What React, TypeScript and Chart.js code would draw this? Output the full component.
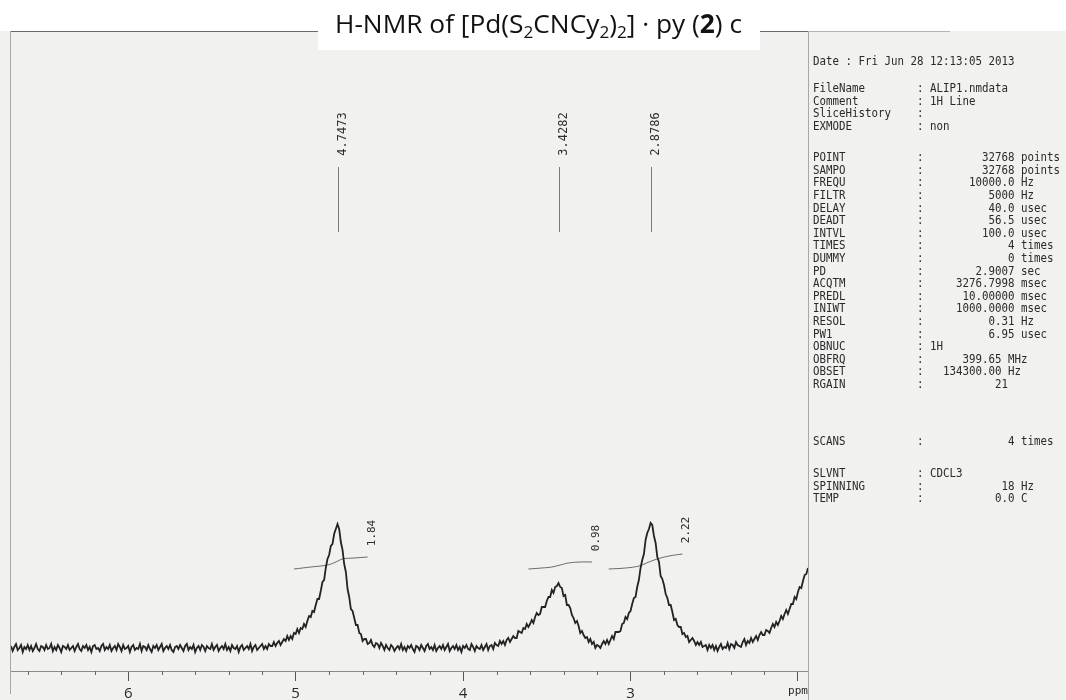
import { useEffect, useRef } from "react";
import { Chart, registerables } from "chart.js";

Chart.register(...registerables);

// ---------------- spectrum: intensity, one value every 0.01 ppm from 6.70 ppm ----------------
const PPM_START = 6.7;
const PPM_STEP = 0.01;

// 6.70 – 5.21 ppm (flat, noisy baseline)
const BASELINE_LEFT = [
  2, -3, 1, 4, -2, 0, 3, -4, 1, -1, 3, -2, 2, -3, 0, 4, -1, -3, 2, 1,
  -2, 3, -1, 0, 4, -3, 1, -2, 3, 0, -4, 2, 1, -1, 3, -2, 0, 2, -3, 1,
  4, -1, -3, 2, 0, 3, -2, 1, -4, 2, 3, -1, 0, -3, 2, 4, -2, 1, -1, 3,
  -3, 0, 2, -2, 4, 1, -3, 3, -1, 0, 2, -4, 1, 3, -2, 0, -1, 4, -3, 2,
  1, -2, 3, -1, -4, 2, 0, 3, -2, 1, 4, -3, 0, 2, -1, 3, -2, -4, 1, 2,
  -1, 3, 0, -3, 2, 4, -2, 1, -1, 3, -4, 0, 2, -2, 3, 1, -3, 2, 0, -1,
  4, -2, 1, 3, -3, 0, 2, -1, 4, -2, 1, -3, 3, 0, -1, 2, -4, 1, 3, -2,
  0, 2, -1, 4, -3, 1, 3, -2, 0, 2,
];
// 5.20 – 4.45 ppm (peak at 4.7473)
const PEAK_A = [
  4, -1, 2, -1, 4, 2, 2, 6, 2, 5, 7, 3, 6, 9, 7, 12, 8, 12, 9, 15,
  14, 19, 15, 20, 19, 24, 21, 27, 32, 31, 37, 36, 43, 49, 49, 57, 66, 68, 80, 89,
  93, 102, 104, 114, 119, 124, 119, 106, 98, 84, 76, 59, 51, 39, 37, 30, 23, 23, 15, 14,
  7, 9, 9, 4, 5, 8, 3, 1, 5, 4, 0, 5, 2, -2, 3, 0,
];
// 4.44 – 3.84 ppm
const BASELINE_MID = [
  -2, 3, 1, -3, 0, 2, -1, 4, -2, 1, -3, 2, 0, 3, -1, -4, 2, 1, -2, 3,
  0, -3, 2, 4, -1, 1, -2, 3, -3, 0, 2, -1, 3, -2, 1, 4, -3, 0, 2, -1,
  3, -2, 1, -4, 2, 0, 3, -1, -2, 4, 1, -3, 2, 0, -1, 3, -2, 1, 4, -2, 2,
];
// 3.83 – 3.19 ppm (peak at 3.4282)
const PEAK_B = [
  3, -1, 5, 3, 2, 7, 4, 7, 3, 8, 10, 6, 9, 12, 10, 10, 17, 16, 15, 20,
  19, 24, 21, 24, 28, 25, 31, 35, 33, 34, 41, 41, 41, 47, 51, 51, 58, 55, 61, 62,
  65, 61, 60, 52, 53, 43, 43, 40, 33, 30, 25, 27, 22, 15, 17, 13, 10, 11, 6, 9,
  4, 6, 0, 3, 2,
];
// 3.18 – 2.50 ppm (peak at 2.8786)
const PEAK_C = [
  0, 4, 7, 4, 8, 4, 8, 12, 9, 16, 16, 16, 17, 24, 25, 31, 29, 35, 37, 44,
  50, 51, 61, 68, 80, 88, 94, 108, 115, 119, 125, 123, 112, 105, 91, 86, 72, 69, 63, 54,
  50, 43, 43, 36, 28, 29, 23, 21, 21, 14, 15, 11, 12, 6, 8, 10, 7, 3, 6, 3,
  6, 1, 2, 3, -2, 3, 0, 3, -2,
];
// 2.49 – 1.94 ppm (rise of the next signal at the right edge)
const TAIL_RIGHT = [
  2, -3, 1, 4, -1, 1, 0, 5, -1, 4, 3, 0, 6, 3, 2, 1, 6, 9, 3, 7,
  5, 10, 6, 9, 12, 8, 13, 16, 13, 13, 18, 17, 15, 20, 24, 21, 26, 23, 27, 32,
  29, 34, 38, 34, 39, 44, 44, 51, 49, 56, 61, 60, 67, 73, 74, 80,
];

const INTENSITY = [...BASELINE_LEFT, ...PEAK_A, ...BASELINE_MID, ...PEAK_B, ...PEAK_C, ...TAIL_RIGHT];

// ---------------- integral curves ----------------
const INT1_PPM = [5.01, 4.91, 4.81, 4.76, 4.72, 4.65, 4.57];
const INT1_VAL = [79, 81, 83, 86, 89, 90, 91];
const INT2_PPM = [3.61, 3.53, 3.47, 3.42, 3.37, 3.3, 3.23];
const INT2_VAL = [79, 80, 81, 83, 85, 86, 86];
const INT3_PPM = [3.13, 3.03, 2.95, 2.89, 2.84, 2.77, 2.69];
const INT3_VAL = [79, 80, 82, 86, 89, 92, 94];
const INTEGRAL_LABELS = ["1.84", "0.98", "2.22"];

// ---------------- peak picks ----------------
const PEAK_PPM = [4.7473, 3.4282, 2.8786];
const PEAK_LABELS = ["4.7473", "3.4282", "2.8786"];

// ---------------- axis ----------------
const MAJOR_TICKS = [6, 5, 4, 3, 2];
const MAJOR_TICK_LABELS = ["6", "5", "4", "3", "ppm"];
const MINOR_TICKS = [6.6, 6.4, 6.2, 5.8, 5.6, 5.4, 5.2, 4.8, 4.6, 4.4, 4.2, 3.8, 3.6, 3.4, 3.2, 2.8, 2.6, 2.4, 2.2];

// ---------------- acquisition parameters ----------------
const RUN_DATE = "Date : Fri Jun 28 12:13:05 2013";
const HEADER_KEYS = ["FileName", "Comment", "SliceHistory", "EXMODE"];
const HEADER_VALUES = ["ALIP1.nmdata", "1H Line", "", "non"];
const PARAM_KEYS = ["POINT", "SAMPO", "FREQU", "FILTR", "DELAY", "DEADT", "INTVL", "TIMES", "DUMMY", "PD", "ACQTM", "PREDL", "INIWT", "RESOL", "PW1", "OBNUC", "OBFRQ", "OBSET", "RGAIN"];
const PARAM_VALUES = ["32768", "32768", "10000.0", "5000", "40.0", "56.5", "100.0", "4", "0", "2.9007", "3276.7998", "10.00000", "1000.0000", "0.31", "6.95", "1H", "399.65", "134300.00", "21"];
const PARAM_UNITS = ["points", "points", "Hz", "Hz", "usec", "usec", "usec", "times", "times", "sec", "msec", "msec", "msec", "Hz", "usec", "", "MHz", "Hz", ""];
const SCAN_KEYS = ["SCANS"];
const SCAN_VALUES = ["4"];
const SCAN_UNITS = ["times"];
const SOLVENT_KEYS = ["SLVNT", "SPINNING", "TEMP"];
const SOLVENT_VALUES = ["CDCL3", "18", "0.0"];
const SOLVENT_UNITS = ["", "Hz", "C"];

const TITLE_PARTS = [
  { t: "H-NMR of [Pd(S", k: "n" },
  { t: "2", k: "sub" },
  { t: "CNCy", k: "n" },
  { t: "2", k: "sub" },
  { t: ")", k: "n" },
  { t: "2", k: "sub" },
  { t: "] \u00b7 py (", k: "n" },
  { t: "2", k: "b" },
  { t: ") c", k: "n" },
];

// ---------------- layout constants ----------------
const W = 1066;
const H = 700;
const PAPER = "#f1f1f0";
const MONO = '"DejaVu Sans Mono", "Liberation Mono", monospace';
const SANS = '"Open Sans", "Noto Sans", sans-serif';
const END_COL_OVERRIDE: Record<string, number> = { OBFRQ: 28, OBSET: 28, RGAIN: 29 };

function fmtRow(key: string, value: string, unit: string) {
  let s = key.padEnd(16, " ") + ":";
  if (value === "") return s;
  if (/^[0-9.]+$/.test(value)) {
    const endCol = END_COL_OVERRIDE[key] ?? 30;
    const start = endCol - value.length + 1;
    s = s.padEnd(start, " ") + value;
  } else {
    s = s + " " + value;
  }
  if (unit) s += " " + unit;
  return s;
}

function buildPanel() {
  const rows: { text: string; y: number }[] = [];
  rows.push({ text: RUN_DATE, y: 62 });
  HEADER_KEYS.forEach((k, i) => rows.push({ text: fmtRow(k, HEADER_VALUES[i], ""), y: 89 + i * 12.6 }));
  PARAM_KEYS.forEach((k, i) => rows.push({ text: fmtRow(k, PARAM_VALUES[i], PARAM_UNITS[i]), y: 158 + i * 12.6 }));
  SCAN_KEYS.forEach((k, i) => rows.push({ text: fmtRow(k, SCAN_VALUES[i], SCAN_UNITS[i]), y: 442 + i * 12.6 }));
  SOLVENT_KEYS.forEach((k, i) => rows.push({ text: fmtRow(k, SOLVENT_VALUES[i], SOLVENT_UNITS[i]), y: 474 + i * 12.6 }));
  return rows;
}

const paperPlugin = {
  id: "paper",
  beforeDraw(chart: any) {
    const ctx = chart.ctx;
    ctx.save();
    ctx.fillStyle = PAPER;
    ctx.fillRect(0, 0, W, H);
    ctx.fillStyle = "#ffffff";
    ctx.fillRect(0, 0, W, 31);
    ctx.fillRect(318, 0, 442, 50);
    ctx.restore();
  },
  afterDraw(chart: any) {
    const { ctx, chartArea, scales } = chart;
    const xs = scales.x;
    const ys = scales.y;
    const line = (x1: number, y1: number, x2: number, y2: number) => {
      ctx.beginPath();
      ctx.moveTo(x1, y1);
      ctx.lineTo(x2, y2);
      ctx.stroke();
    };
    ctx.save();
    ctx.lineWidth = 1;
    // frame
    ctx.strokeStyle = "#6a6a6a";
    line(10, 31.5, 318, 31.5);
    line(760, 31.5, 808, 31.5);
    ctx.strokeStyle = "#b4b4b4";
    line(808, 31.5, 950, 31.5);
    ctx.strokeStyle = "#a8a8a8";
    line(10.5, 31, 10.5, 694);
    line(808.5, 31, 808.5, 700);

    // minor ticks
    ctx.strokeStyle = "#666";
    for (const v of MINOR_TICKS) {
      const x = Math.round(xs.getPixelForValue(v)) + 0.5;
      line(x, chartArea.bottom, x, chartArea.bottom + 4);
    }

    // peak picks
    ctx.fillStyle = "#2e2e2e";
    ctx.font = `12px ${MONO}`;
    PEAK_PPM.forEach((p, i) => {
      const x = Math.round(xs.getPixelForValue(p)) + 0.5;
      ctx.strokeStyle = "#7a7a7a";
      line(x, 167, x, 232);
      ctx.save();
      ctx.translate(x + 4, 134);
      ctx.rotate(-Math.PI / 2);
      ctx.textAlign = "center";
      ctx.textBaseline = "middle";
      ctx.fillText(PEAK_LABELS[i], 0, 0);
      ctx.restore();
    });

    // integral labels
    ctx.font = `11px ${MONO}`;
    const ends = [
      [INT1_PPM[INT1_PPM.length - 1], INT1_VAL[INT1_VAL.length - 1]],
      [INT2_PPM[INT2_PPM.length - 1], INT2_VAL[INT2_VAL.length - 1]],
      [INT3_PPM[INT3_PPM.length - 1], INT3_VAL[INT3_VAL.length - 1]],
    ];
    ends.forEach(([p, v], i) => {
      const x = xs.getPixelForValue(p);
      const y = ys.getPixelForValue(v);
      ctx.save();
      ctx.translate(x + 4, y - 24);
      ctx.rotate(-Math.PI / 2);
      ctx.textAlign = "center";
      ctx.textBaseline = "middle";
      ctx.fillText(INTEGRAL_LABELS[i], 0, 0);
      ctx.restore();
    });

    // acquisition parameter panel
    ctx.font = `12px ${MONO}`;
    ctx.fillStyle = "#2a2a2a";
    ctx.textAlign = "left";
    ctx.textBaseline = "middle";
    for (const r of buildPanel()) {
      ctx.save();
      ctx.translate(813, r.y);
      ctx.scale(0.9, 1);
      ctx.fillText(r.text, 0, 0);
      ctx.restore();
    }

    // title
    const fontFor = (k: string) =>
      k === "sub" ? `17px ${SANS}` : k === "b" ? `bold 26px ${SANS}` : `26px ${SANS}`;
    let total = 0;
    for (const part of TITLE_PARTS) {
      ctx.font = fontFor(part.k);
      total += ctx.measureText(part.t).width;
    }
    const sx = 407 / total;
    ctx.save();
    ctx.translate(538.5 - (total * sx) / 2, 33);
    ctx.scale(sx, 1);
    ctx.fillStyle = "#111";
    ctx.textBaseline = "alphabetic";
    let cx = 0;
    for (const part of TITLE_PARTS) {
      ctx.font = fontFor(part.k);
      ctx.fillText(part.t, cx, part.k === "sub" ? 5 : 0);
      cx += ctx.measureText(part.t).width;
    }
    ctx.restore();

    ctx.restore();
  },
};

export default function App() {
  const ref = useRef<HTMLCanvasElement>(null);
  useEffect(() => {
    if (!ref.current) return;
    const spectrum = INTENSITY.map((v, i) => ({ x: Number((PPM_START - i * PPM_STEP).toFixed(2)), y: v }));
    const toPts = (px: number[], py: number[]) => px.map((p, i) => ({ x: p, y: py[i] }));
    const chart = new Chart(ref.current, {
      type: "line",
      data: {
        datasets: [
          { data: spectrum, borderColor: "#232323", borderWidth: 1.8, pointRadius: 0, tension: 0 },
          { data: toPts(INT1_PPM, INT1_VAL), borderColor: "#6a6a6a", borderWidth: 1, pointRadius: 0, tension: 0.4 },
          { data: toPts(INT2_PPM, INT2_VAL), borderColor: "#6a6a6a", borderWidth: 1, pointRadius: 0, tension: 0.4 },
          { data: toPts(INT3_PPM, INT3_VAL), borderColor: "#6a6a6a", borderWidth: 1, pointRadius: 0, tension: 0.4 },
        ],
      },
      options: {
        animation: false,
        responsive: false,
        maintainAspectRatio: false,
        layout: { padding: { left: 11, right: 258, top: 31, bottom: 0 } },
        plugins: { legend: { display: false }, tooltip: { enabled: false }, title: { display: false } },
        scales: {
          x: {
            type: "linear",
            reverse: true,
            min: 1.94,
            max: 6.7,
            afterBuildTicks: (scale: any) => {
              scale.ticks = MAJOR_TICKS.map((v) => ({ value: v }));
            },
            afterFit: (scale: any) => {
              scale.height = 29;
            },
            ticks: {
              autoSkip: false,
              maxRotation: 0,
              padding: 4,
              color: "#2a2a2a",
              font: (c: any) =>
                c.tick && c.tick.value === 2 ? { family: MONO, size: 11 } : { family: SANS, size: 15 },
              callback: (value: any) => {
                const i = MAJOR_TICKS.indexOf(Number(value));
                return i >= 0 ? MAJOR_TICK_LABELS[i] : "";
              },
            },
            grid: { drawOnChartArea: false, drawTicks: true, tickLength: 10, color: "#555", tickColor: "#555" },
            border: { display: true, color: "#8a8a8a", width: 1 },
          },
          y: { display: false, min: -23, max: 617 },
        },
      },
      plugins: [paperPlugin],
    } as any);
    return () => chart.destroy();
  }, []);
  return (
    <div style={{ position: "absolute", left: 0, top: 0, width: W, height: H }}>
      <canvas ref={ref} width={W} height={H} style={{ display: "block", width: W, height: H }} />
    </div>
  );
}
